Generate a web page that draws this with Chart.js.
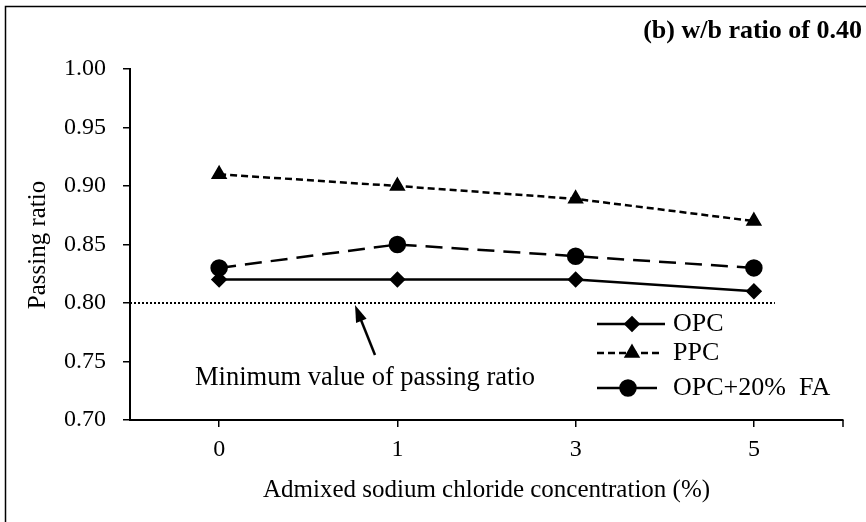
<!DOCTYPE html>
<html>
<head>
<meta charset="utf-8">
<script src="https://cdn.jsdelivr.net/npm/chart.js@4.4.1/dist/chart.umd.min.js"></script>
<style>
  html, body { margin: 0; padding: 0; background: #fff; }
  #wrap { width: 866px; height: 522px; position: relative; }
</style>
</head>
<body>
<div id="wrap"><canvas id="c" width="866" height="522"></canvas></div>
<script>
// Admixed NaCl concentration (%) and passing ratio per binder type
const categories = ['0', '1', '3', '5'];
const opc = [0.82, 0.82, 0.82, 0.81];
const ppc = [0.91, 0.90, 0.889, 0.87];
const opcFa = [0.83, 0.85, 0.84, 0.83];
const seriesNames = ['OPC', 'PPC', 'OPC+20%  FA'];
const minPassingRatio = 0.80;
const yTicks = [0.70, 0.75, 0.80, 0.85, 0.90, 0.95, 1.00];

const FONT = '"Liberation Serif", "Times New Roman", serif';

const extras = {
  id: 'extras',
  afterDraw(chart) {
    const ctx = chart.ctx;
    const x = chart.scales.x, y = chart.scales.y;
    const area = chart.chartArea;
    ctx.save();

    // outer frame
    ctx.strokeStyle = '#000';
    ctx.lineWidth = 1.5;
    ctx.strokeRect(5.5, 6.5, 900, 600);

    // closing tick at the right end of the category axis
    ctx.lineWidth = 1.5;
    ctx.beginPath();
    ctx.moveTo(area.right, area.bottom);
    ctx.lineTo(area.right, area.bottom + 7);
    ctx.stroke();

    // minimum passing ratio line
    const yMin = y.getPixelForValue(minPassingRatio);
    ctx.setLineDash([2, 2]);
    ctx.lineWidth = 2;
    ctx.beginPath();
    ctx.moveTo(area.left, yMin);
    ctx.lineTo(x.getPixelForValue(3) + 21, yMin);
    ctx.stroke();
    ctx.setLineDash([]);

    // arrow pointing to the minimum line
    const ax0 = 375, ay0 = 355, ax1 = 355, ay1 = yMin + 2;
    const ang = Math.atan2(ay1 - ay0, ax1 - ax0);
    const headLen = 18;
    ctx.lineWidth = 2.5;
    ctx.beginPath();
    ctx.moveTo(ax0, ay0);
    ctx.lineTo(ax1 - (headLen - 4) * Math.cos(ang), ay1 - (headLen - 4) * Math.sin(ang));
    ctx.stroke();
    ctx.beginPath();
    ctx.moveTo(ax1, ay1);
    ctx.lineTo(ax1 - headLen * Math.cos(ang - 0.32), ay1 - headLen * Math.sin(ang - 0.32));
    ctx.lineTo(ax1 - headLen * Math.cos(ang + 0.32), ay1 - headLen * Math.sin(ang + 0.32));
    ctx.closePath();
    ctx.fillStyle = '#000';
    ctx.fill();

    ctx.fillStyle = '#000';
    ctx.font = '26.5px ' + FONT;
    ctx.textBaseline = 'alphabetic';
    ctx.textAlign = 'left';
    ctx.fillText('Minimum value of passing ratio', 195, 385);

    // panel title
    ctx.font = 'bold 26px ' + FONT;
    ctx.textAlign = 'right';
    ctx.fillText('(b) w/b ratio of 0.40', 862, 38);

    // axis titles
    ctx.font = '25px ' + FONT;
    ctx.textAlign = 'center';
    ctx.textBaseline = 'middle';
    ctx.fillText('Admixed sodium chloride concentration (%)', (area.left + area.right) / 2, 490);
    ctx.save();
    ctx.translate(38, 245);
    ctx.rotate(-Math.PI / 2);
    ctx.fillText('Passing ratio', 0, 0);
    ctx.restore();

    // legend
    const rows = [324, 353, 388];
    const spans = [[597, 665, 632], [597, 662, 632], [597, 657, 628]];
    chart.data.datasets.forEach((ds, i) => {
      const ly = rows[i];
      const [x0, x1, mx] = spans[i];
      ctx.strokeStyle = '#000';
      ctx.lineWidth = 2.5;
      ctx.setLineDash(i === 1 ? ds.borderDash : []);
      ctx.beginPath();
      ctx.moveTo(x0, ly);
      ctx.lineTo(x1, ly);
      ctx.stroke();
      ctx.setLineDash([]);
      ctx.fillStyle = '#000';
      Chart.helpers.drawPoint(ctx, {
        pointStyle: ds.pointStyle,
        radius: ds.pointRadius,
        rotation: 0,
        borderWidth: 1
      }, mx, ly);
      ctx.fillStyle = '#000';
      ctx.font = '26px ' + FONT;
      ctx.textAlign = 'left';
      ctx.textBaseline = 'middle';
      ctx.fillText(ds.label, 673, ly);
    });

    ctx.restore();
  }
};

new Chart(document.getElementById('c'), {
  type: 'line',
  data: {
    labels: categories,
    datasets: [
      {
        label: seriesNames[0], data: opc,
        borderColor: '#000', backgroundColor: '#000', borderWidth: 2.5,
        pointStyle: 'rectRot', pointRadius: 6.5, pointBorderColor: '#000', pointBackgroundColor: '#000'
      },
      {
        label: seriesNames[1], data: ppc,
        borderColor: '#000', backgroundColor: '#000', borderWidth: 2.5, borderDash: [7, 4],
        pointStyle: 'triangle', pointRadius: 7, pointBorderColor: '#000', pointBackgroundColor: '#000'
      },
      {
        label: seriesNames[2], data: opcFa,
        borderColor: '#000', backgroundColor: '#000', borderWidth: 2.5, borderDash: [17, 9],
        pointStyle: 'circle', pointRadius: 7.5, pointBorderColor: '#000', pointBackgroundColor: '#000'
      }
    ]
  },
  options: {
    responsive: false,
    animation: false,
    devicePixelRatio: 1,
    layout: { padding: { left: 0, top: 69, right: 23, bottom: 0 } },
    plugins: { legend: { display: false }, tooltip: { enabled: false }, title: { display: false } },
    scales: {
      x: {
        type: 'category',
        offset: true,
        grid: { display: true, drawOnChartArea: false, offset: false, tickLength: 7, color: '#000', lineWidth: 1.5 },
        border: { display: true, color: '#000', width: 2 },
        ticks: { color: '#000', font: { family: FONT, size: 24 }, padding: 8, maxRotation: 0 },
        afterFit(s) { s.height = 102; }
      },
      y: {
        min: 0.70, max: 1.00,
        afterBuildTicks(s) { s.ticks = yTicks.map(v => ({ value: v })); },
        grid: { display: true, drawOnChartArea: false, tickLength: 7, color: '#000', lineWidth: 1.5 },
        border: { display: true, color: '#000', width: 2 },
        ticks: { color: '#000', font: { family: FONT, size: 24 }, padding: 17, callback: v => Number(v).toFixed(2) },
        afterFit(s) { s.width = 130; }
      }
    }
  },
  plugins: [extras]
});
</script>
</body>
</html>
